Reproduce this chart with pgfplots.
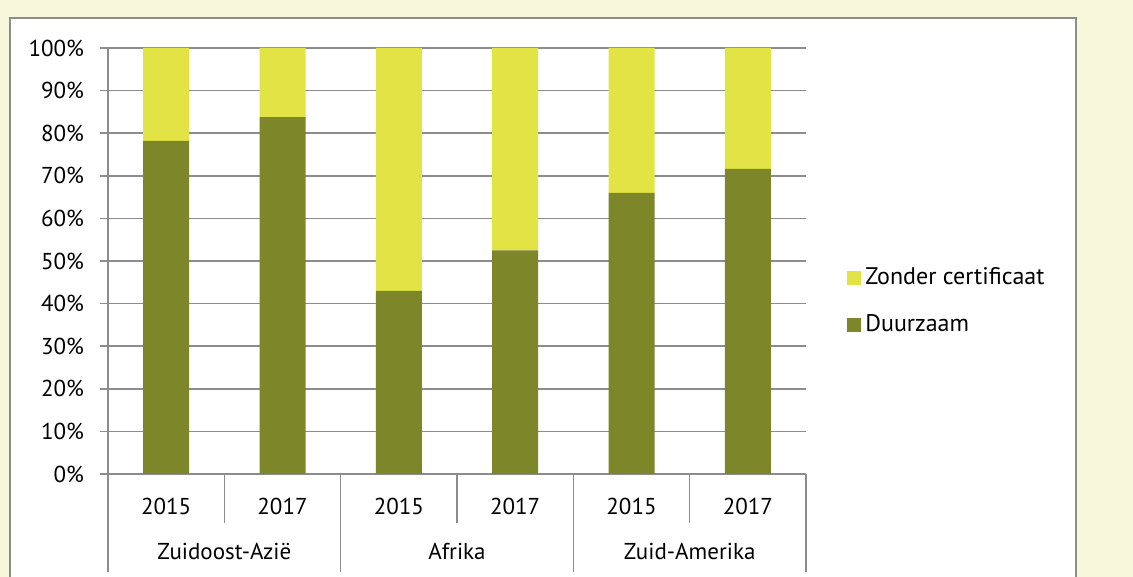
\documentclass[border=0pt]{standalone}
\usepackage{fontspec}
\setmainfont{PT Sans}
\usepackage{pgfplots}
\pgfplotsset{compat=1.18}
\definecolor{bgy}{HTML}{F7F7DC}
\definecolor{dgreen}{HTML}{7D8628}
\definecolor{lyellow}{HTML}{E1E444}
\definecolor{gridg}{HTML}{8C8C8C}
\begin{document}
\fontsize{11.5}{14}\selectfont
\begin{tikzpicture}
\useasboundingbox (0,0) rectangle (566.5pt,288.5pt);
\fill[bgy] (0,0) rectangle (566.5pt,288.5pt);
\filldraw[fill=white, draw=gridg, line width=1pt] (5pt,-5pt) rectangle (538pt,279.5pt);
\begin{axis}[
  at={(54pt,51.5pt)}, anchor=south west,
  scale only axis, width=349pt, height=213pt,
  ybar stacked, bar width=23pt,
  xmin=-0.5, xmax=5.5, ymin=0, ymax=100,
  clip=false,
  axis x line=bottom, axis y line=left,
  axis line style={draw=gridg, line width=0.75pt, -},
  xtick={0,...,5}, xticklabels={2015,2017,2015,2017,2015,2017},
  x tick style={draw=none},
  xticklabel style={anchor=center, yshift=-12pt, text height=8pt, text depth=0pt, font=\fontsize{11.5}{14}\selectfont},
  ytick={0,10,...,100},
  yticklabel={\pgfmathprintnumber{\tick}\%},
  /pgf/number format/assume math mode=true,
  y tick style={draw=gridg, line width=0.75pt},
  tick align=outside, major tick length=4pt,
  yticklabel style={anchor=east, xshift=-4pt, font=\fontsize{11.5}{14}\selectfont},
  ymajorgrids, grid style={draw=gridg, line width=0.75pt},
  legend style={at={(1.0587,0.405)}, anchor=west, draw=none, fill=none, inner sep=0pt,
    row sep=9.5pt, font=\fontsize{12}{14}\selectfont, legend cell align=left},
  reverse legend,
  legend image code/.code={\fill[#1] (0pt,-3.5pt) rectangle (7pt,3.5pt);},
]
\addplot[fill=dgreen, draw=none] coordinates {(0,78.2) (1,83.8) (2,43.0) (3,52.5) (4,66.0) (5,71.6)};
\addlegendentry{Duurzaam}
\addplot[fill=lyellow, draw=none] coordinates {(0,21.8) (1,16.2) (2,57.0) (3,47.5) (4,34.0) (5,28.4)};
\addlegendentry{Zonder certificaat}
\foreach \xx in {0.5,2.5,4.5} {
  \edef\tmp{\noexpand\draw[gridg, line width=0.75pt] (axis cs:\xx,0) -- ([yshift=-24.5pt]axis cs:\xx,0);}\tmp
}
\foreach \xx in {-0.5,1.5,3.5,5.5} {
  \edef\tmp{\noexpand\draw[gridg, line width=0.75pt] (axis cs:\xx,0) -- ([yshift=-49pt]axis cs:\xx,0);}\tmp
}
\node[anchor=center, yshift=-38.5pt, text height=8pt, text depth=0pt] at (axis cs:0.5,0) {Zuidoost-Azië};
\node[anchor=center, yshift=-38.5pt, text height=8pt, text depth=0pt] at (axis cs:2.5,0) {Afrika};
\node[anchor=center, yshift=-38.5pt, text height=8pt, text depth=0pt] at (axis cs:4.5,0) {Zuid-Amerika};
\end{axis}
\end{tikzpicture}
\end{document}
